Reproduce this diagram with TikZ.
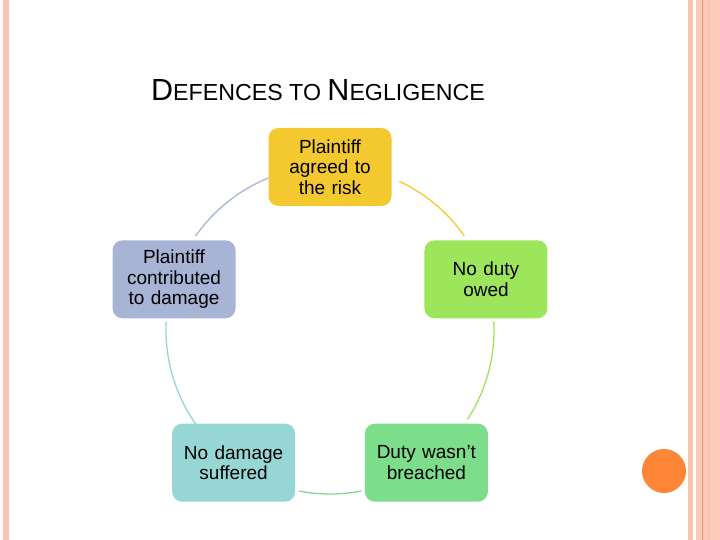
\documentclass[tikz,border=0pt]{standalone}
\usepackage{fontspec}
\setmainfont{Liberation Sans}
\usepackage{tikz}
\usetikzlibrary{arrows.meta,positioning}
\definecolor{riskgold}{RGB}{244,201,47}
\definecolor{dutylime}{RGB}{157,229,90}
\definecolor{breachgreen}{RGB}{124,221,139}
\definecolor{damageteal}{RGB}{150,215,213}
\definecolor{contribblue}{RGB}{168,180,214}
\definecolor{salmonpale}{RGB}{249,197,176}
\definecolor{salmonline}{RGB}{236,150,116}
\definecolor{dotorange}{RGB}{254,134,55}
\newcommand{\ttlbig}{\fontsize{30.5}{30.5}\selectfont}
\newcommand{\ttlsmall}{\fontsize{23.2}{23.2}\selectfont}

\begin{document}
\begin{tikzpicture}[x=1pt,y=1pt,
  defbox/.style={rounded corners=10pt,minimum width=123pt,minimum height=78pt,
              text width=115pt,inner sep=4pt,align=center,
              font=\fontsize{19}{20.5}\selectfont},
  cyc/.style={line width=1.3pt}]
  \useasboundingbox (0,0) rectangle (720,-540);
  % page border
  \fill[salmonpale] (3,0) rectangle (9,-540);
  \fill[salmonpale] (688,0) rectangle (692.5,-540);
  \fill[salmonpale!90!white] (696,0) rectangle (720,-540);
  \draw[salmonline,line width=1pt] (702,0) -- (702,-540);
  \fill[salmonpale] (707,0) rectangle (710,-540);
  \fill[dotorange] (664,-471) circle (22);
  % title
  \node[anchor=base west,inner sep=0pt] (title) at (151,-101)
    {\ttlbig D\ttlsmall EFENCES TO \ttlbig N\ttlsmall EGLIGENCE};
  % cycle
  \coordinate (hub) at (330,-330);
  \node[defbox,fill=riskgold] (risk) at ([shift={(90:163)}]hub) {Plaintiff\\agreed to\\the risk};
  \node[defbox,fill=dutylime] (duty) at ([shift={(18:164)}]hub) {No duty\\owed};
  \node[defbox,fill=breachgreen] (breach) at ([shift={(-54:164)}]hub) {Duty wasn’t\\breached};
  \node[defbox,fill=damageteal] (damage) at ([shift={(-126:164)}]hub) {No damage\\suffered};
  \node[defbox,fill=contribblue] (contrib) at ([shift={(162:164)}]hub) {Plaintiff\\contributed\\to damage};
  \draw[cyc,riskgold] ([shift={(65:164)}]hub) arc[start angle=65,end angle=35,radius=164];
  \draw[cyc,dutylime] ([shift={(3:164)}]hub) arc[start angle=3,end angle=-33,radius=164];
  \draw[cyc,breachgreen] ([shift={(-79:164)}]hub) arc[start angle=-79,end angle=-101,radius=164];
  \draw[cyc,damageteal] ([shift={(-145:164)}]hub) arc[start angle=-145,end angle=-183,radius=164];
  \draw[cyc,contribblue] ([shift={(145:164)}]hub) arc[start angle=145,end angle=112,radius=164];
\end{tikzpicture}
\end{document}
